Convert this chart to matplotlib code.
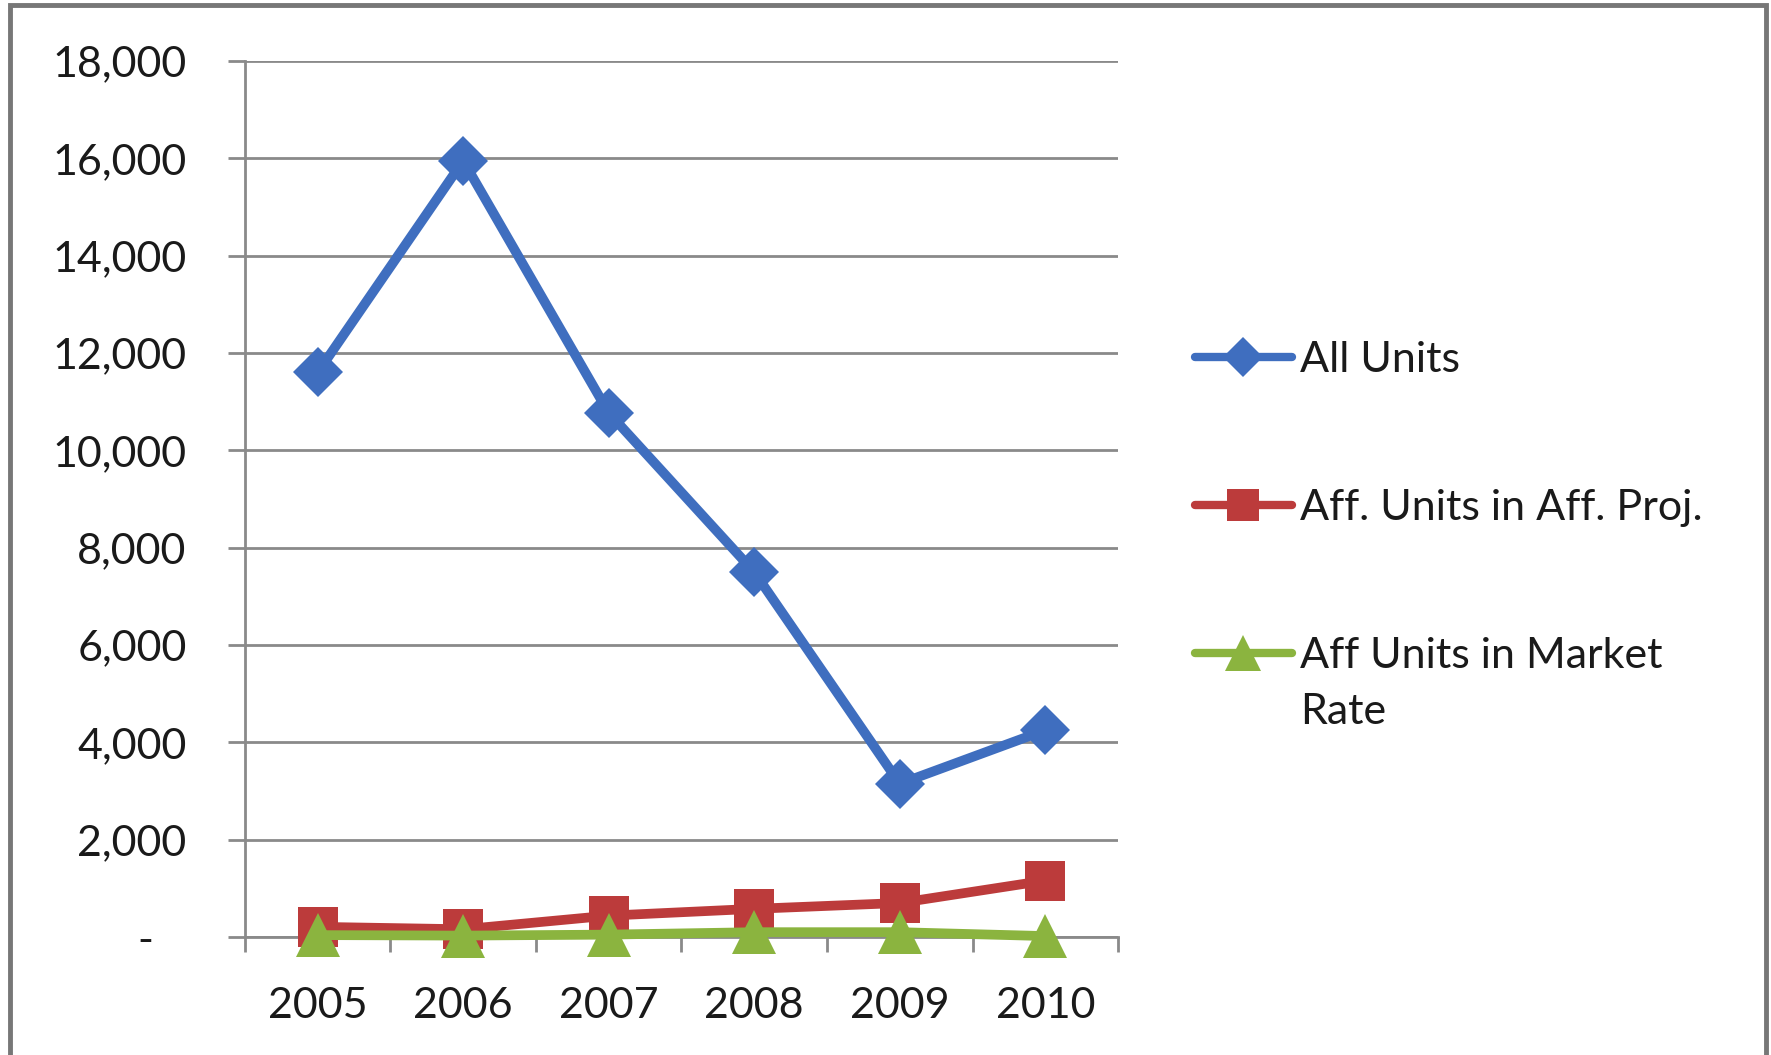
import matplotlib.pyplot as plt
from matplotlib.lines import Line2D
from matplotlib.patches import Rectangle
from matplotlib.ticker import FixedLocator, FuncFormatter

plt.rcParams['font.family'] = ['Lato', 'DejaVu Sans']

years = ['2005', '2006', '2007', '2008', '2009', '2010']
all_units = [11600, 15950, 10770, 7500, 3150, 4250]
aff_proj = [210, 160, 440, 580, 700, 1160]
aff_market = [40, 30, 50, 100, 100, 20]
labels = ['All Units', 'Aff. Units in Aff. Proj.', 'Aff Units in Market\nRate']

blue = '#3F6EBF'
red = '#BC3B3B'
green = '#8BB43F'
grid_c = '#8A8A8A'

fig = plt.figure(figsize=(17.71, 10.55), dpi=100)
ax = fig.add_axes([0.1383, 0.1118, 0.4930, 0.8304])

x = range(len(years))
styles = [
    (all_units, blue, 'D', 25),
    (aff_proj, red, 's', 29),
    (aff_market, green, '^', 32),
]
for vals, c, m, ms in styles:
    ax.plot(x, vals, color=c, lw=7, marker=m, markersize=ms,
            markeredgewidth=0, solid_capstyle='round', zorder=3, clip_on=False)

ax.set_xlim(-0.5, 5.5)
ax.set_ylim(0, 18000)
ax.yaxis.set_major_locator(FixedLocator(range(0, 18001, 2000)))
ax.yaxis.set_major_formatter(FuncFormatter(lambda v, p: '-   ' if v == 0 else f'{int(v):,}'))
ax.set_xticks(list(x))
ax.set_xticklabels(years)
ax.set_xticks([i - 0.5 for i in range(len(years) + 1)], minor=True)

ax.grid(axis='y', color=grid_c, lw=2)
ax.set_axisbelow(True)
for s in ['top', 'right']:
    ax.spines[s].set_visible(False)
for s in ['left', 'bottom']:
    ax.spines[s].set_color(grid_c)
    ax.spines[s].set_linewidth(2)

ax.tick_params(axis='y', direction='out', length=12, width=2, color=grid_c,
               pad=30, labelsize=31, labelcolor='#1a1a1a')
ax.tick_params(axis='x', which='major', length=0, pad=36, labelsize=31, labelcolor='#1a1a1a')
ax.tick_params(axis='x', which='minor', direction='out', length=11, width=2, color=grid_c)

# legend drawn by hand so the marker sits on the first text line
leg_y = [0.6616, 0.5213, 0.381]
line_step = 56 / 1055
base_off = 15 / 1055
for (vals, c, m, ms), lab, yy in zip(styles, labels, leg_y):
    fig.add_artist(Line2D([0.6745, 0.7295], [yy, yy], color=c, lw=6,
                          solid_capstyle='round', transform=fig.transFigure))
    fig.add_artist(Line2D([0.702], [yy], color=c, marker=m, markersize=ms * 0.8,
                          markeredgewidth=0, transform=fig.transFigure))
    for k, part in enumerate(lab.split('\n')):
        fig.text(0.734, yy - base_off - k * line_step, part, fontsize=31,
                 va='baseline', ha='left', color='#1a1a1a')

fig.add_artist(Rectangle((10 / 1771, -0.05), 1756 / 1771, 1.05 - 5 / 1055,
                         fill=False, edgecolor='#777777', lw=3.5,
                         transform=fig.transFigure))

fig.savefig('out.png', dpi=100)
